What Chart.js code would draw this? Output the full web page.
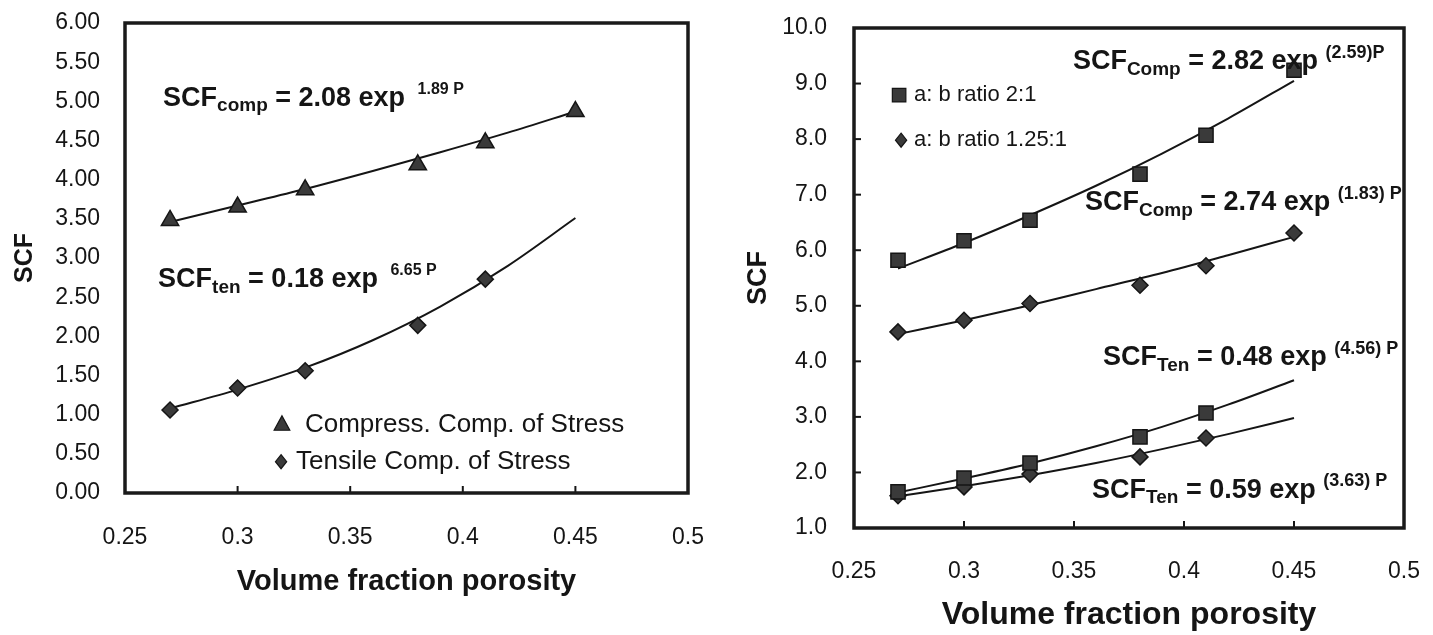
<!DOCTYPE html>
<html>
<head>
<meta charset="utf-8">
<script src="https://cdn.jsdelivr.net/npm/chart.js@4.4.1/dist/chart.umd.min.js"></script>
<style>
html, body { margin: 0; padding: 0; background: #fff; }
#wrap { position: relative; width: 1433px; height: 635px; overflow: hidden; background: #fff; }
canvas { position: absolute; top: 0; }
#left { left: 0; }
#right { left: 720px; }
</style>
</head>
<body>
<div id="wrap">
  <canvas id="left" width="715" height="635"></canvas>
  <canvas id="right" width="713" height="635"></canvas>
</div>
<script>
const FONT = "'Liberation Sans', Arial, sans-serif";
const INK = "#151515";
const MARK = "#3a3a3a";

// shared x values
const porosity = [0.27, 0.30, 0.33, 0.38, 0.41, 0.45];
const fitPorosity = [0.27, 0.30, 0.33, 0.36, 0.39, 0.42, 0.45];
const xTicks = [0.25, 0.3, 0.35, 0.4, 0.45, 0.5];

// left panel
const leftYTicks = [0, 0.5, 1, 1.5, 2, 2.5, 3, 3.5, 4, 4.5, 5, 5.5, 6];
const compressSCF = [3.48, 3.65, 3.87, 4.19, 4.47, 4.87];
const tensileSCF = [1.06, 1.34, 1.56, 2.14, 2.73];
const compressFit = [3.46, 3.67, 3.88, 4.11, 4.35, 4.60, 4.87];
const tensileFit = [1.08, 1.32, 1.60, 1.95, 2.38, 2.90, 3.51];

// right panel
const rightYTicks = [1, 2, 3, 4, 5, 6, 7, 8, 9, 10];
const compRatio21 = [5.82, 6.17, 6.54, 7.37, 8.07, 9.24];
const compRatio125 = [4.53, 4.74, 5.04, 5.37, 5.72, 6.31];
const tenRatio21 = [1.65, 1.90, 2.17, 2.64, 3.07];
const tenRatio125 = [1.58, 1.74, 1.97, 2.28, 2.62];
const compFit21 = [5.67, 6.13, 6.63, 7.16, 7.74, 8.37, 9.05];
const compFit125 = [4.49, 4.74, 5.01, 5.30, 5.59, 5.91, 6.24];
const tenFit21 = [1.64, 1.89, 2.16, 2.47, 2.82, 3.22, 3.66];
const tenFit125 = [1.57, 1.75, 1.95, 2.17, 2.42, 2.69, 2.98];

function pts(xs, ys) {
  return ys.map((y, i) => ({ x: xs[i], y: y }));
}

function markers(xs, ys, style, r) {
  return {
    data: pts(xs, ys), showLine: false, pointStyle: style, pointRadius: r,
    backgroundColor: MARK, borderColor: INK, borderWidth: 1.5
  };
}

function trend(ys) {
  return {
    data: pts(fitPorosity, ys), showLine: true, pointRadius: 0,
    borderColor: INK, borderWidth: 2, tension: 0.4, cubicInterpolationMode: 'monotone'
  };
}

function drawMark(ctx, style, x, y, r) {
  ctx.beginPath();
  if (style === 'triangle') {
    ctx.moveTo(x, y - r);
    ctx.lineTo(x + r * 0.87, y + r * 0.6);
    ctx.lineTo(x - r * 0.87, y + r * 0.6);
  } else if (style === 'rectRot') {
    ctx.moveTo(x, y - r);
    ctx.lineTo(x + r * 0.8, y);
    ctx.lineTo(x, y + r);
    ctx.lineTo(x - r * 0.8, y);
  } else {
    ctx.rect(x - r * 0.75, y - r * 0.75, r * 1.5, r * 1.5);
  }
  ctx.closePath();
  ctx.fillStyle = MARK;
  ctx.fill();
  ctx.lineWidth = 1.2;
  ctx.strokeStyle = INK;
  ctx.stroke();
}

function drawEq(ctx, x, y, parts, cfg) {
  let cx = x;
  ctx.textBaseline = 'middle';
  ctx.textAlign = 'left';
  ctx.fillStyle = INK;
  parts.forEach(p => {
    let fs = cfg.eqSize, dy = 0;
    if (p[1] === 'sub') { fs = cfg.subSize; dy = 8; }
    if (p[1] === 'sup') { fs = cfg.supSize; dy = -9; cx += cfg.supGap; }
    ctx.font = 'bold ' + fs + 'px ' + FONT;
    ctx.fillText(p[0], cx, y + dy);
    cx += ctx.measureText(p[0]).width;
  });
}

function decor(cfg) {
  return {
    id: 'panelDecor',
    afterDraw(chart) {
      const ctx = chart.ctx;
      const a = chart.chartArea;
      const xs = chart.scales.x, ys = chart.scales.y;
      ctx.save();
      // inward tick marks
      ctx.strokeStyle = INK;
      ctx.lineWidth = 2;
      xs.ticks.forEach((t, i) => {
        if (i === 0 || i === xs.ticks.length - 1) return;
        const px = xs.getPixelForValue(t.value);
        ctx.beginPath(); ctx.moveTo(px, a.bottom); ctx.lineTo(px, a.bottom - 7); ctx.stroke();
      });
      if (cfg.yInner) {
        ys.ticks.forEach((t, i) => {
          if (i === 0 || i === ys.ticks.length - 1) return;
          const py = ys.getPixelForValue(t.value);
          ctx.beginPath(); ctx.moveTo(a.left, py); ctx.lineTo(a.left + 7, py); ctx.stroke();
        });
      }
      // frame
      ctx.lineWidth = 3.5;
      ctx.strokeStyle = '#1a1a1a';
      ctx.strokeRect(a.left, a.top, a.right - a.left, a.bottom - a.top);
      // equations
      cfg.equations.forEach(e => {
        drawEq(ctx, xs.getPixelForValue(e.x), ys.getPixelForValue(e.y), e.parts, cfg);
      });
      // legend
      cfg.legend.forEach(l => {
        const px = xs.getPixelForValue(l.x), py = ys.getPixelForValue(l.y);
        drawMark(ctx, l.style, px, py, l.r);
        ctx.fillStyle = INK;
        ctx.font = cfg.legendSize + 'px ' + FONT;
        ctx.textBaseline = 'middle';
        ctx.textAlign = 'left';
        ctx.fillText(l.text, px + l.gap, py);
      });
      ctx.restore();
    }
  };
}

function panel(id, cfg) {
  return new Chart(document.getElementById(id), {
    type: 'scatter',
    data: { datasets: cfg.datasets },
    options: {
      responsive: false,
      animation: false,
      layout: { padding: cfg.padding },
      plugins: { legend: { display: false }, tooltip: { enabled: false } },
      scales: {
        x: {
          type: 'linear', min: 0.25, max: 0.5,
          afterBuildTicks: s => { s.ticks = xTicks.map(v => ({ value: v })); },
          afterFit: s => { s.height = cfg.xHeight; s.paddingLeft = 0; s.paddingRight = 0; },
          grid: { display: false }, border: { display: false },
          ticks: {
            padding: cfg.xPad, color: INK, maxRotation: 0,
            font: { family: FONT, size: 23 },
            callback: v => String(+(+v).toFixed(2))
          },
          title: {
            display: true, text: 'Volume fraction porosity', color: INK,
            font: { family: FONT, size: cfg.xTitleSize, weight: 'bold' },
            padding: { top: 0, bottom: cfg.xTitlePad }
          }
        },
        y: {
          type: 'linear', min: cfg.yTicks[0], max: cfg.yTicks[cfg.yTicks.length - 1],
          afterBuildTicks: s => { s.ticks = cfg.yTicks.map(v => ({ value: v })); },
          afterFit: s => { s.width = cfg.yWidth; s.paddingTop = 0; s.paddingBottom = 0; },
          grid: { display: false }, border: { display: false },
          ticks: {
            padding: cfg.yPad, color: INK,
            font: { family: FONT, size: 23 },
            callback: v => (+v).toFixed(cfg.yDigits)
          },
          title: {
            display: true, text: 'SCF', color: INK,
            font: { family: FONT, size: cfg.yTitleSize, weight: 'bold' },
            padding: { top: cfg.yTitlePad, bottom: 0 }
          }
        }
      }
    },
    plugins: [decor(cfg)]
  });
}

panel('left', {
  datasets: [
    markers(porosity, compressSCF, 'triangle', 10),
    markers(porosity, tensileSCF, 'rectRot', 8),
    trend(compressFit),
    trend(tensileFit)
  ],
  padding: { left: 0, top: 23, right: 27, bottom: 0 },
  yTicks: leftYTicks, yDigits: 2,
  xHeight: 142, yWidth: 125,
  xPad: 23, yPad: 17,
  xTitleSize: 29, xTitlePad: 36,
  yTitleSize: 25, yTitlePad: 10,
  eqSize: 27, subSize: 19, supSize: 16, supGap: 5,
  legendSize: 26,
  yInner: false,
  equations: [
    { x: 0.2669, y: 5.04, parts: [['SCF'], ['comp', 'sub'], [' = 2.08 exp '], ['1.89 P', 'sup']] },
    { x: 0.2647, y: 2.72, parts: [['SCF'], ['ten', 'sub'], [' = 0.18 exp '], ['6.65 P', 'sup']] }
  ],
  legend: [
    { x: 0.3197, y: 0.87, style: 'triangle', r: 9, gap: 23, text: 'Compress. Comp. of Stress' },
    { x: 0.3193, y: 0.40, style: 'rectRot', r: 7, gap: 15, text: 'Tensile Comp. of Stress' }
  ]
});

panel('right', {
  datasets: [
    markers(porosity, compRatio21, 'rect', 10),
    markers(porosity, compRatio125, 'rectRot', 8),
    markers(porosity, tenRatio21, 'rect', 10),
    markers(porosity, tenRatio125, 'rectRot', 8),
    trend(compFit21),
    trend(compFit125),
    trend(tenFit21),
    trend(tenFit125)
  ],
  padding: { left: 0, top: 28, right: 29, bottom: 0 },
  yTicks: rightYTicks, yDigits: 1,
  xHeight: 107, yWidth: 134,
  xPad: 22, yPad: 19,
  xTitleSize: 32, xTitlePad: 1,
  yTitleSize: 27, yTitlePad: 22,
  eqSize: 27, subSize: 19, supSize: 18, supGap: 0,
  legendSize: 22,
  yInner: true,
  equations: [
    { x: 0.3495, y: 9.39, parts: [['SCF'], ['Comp', 'sub'], [' = 2.82 exp '], ['(2.59)P', 'sup']] },
    { x: 0.3550, y: 6.85, parts: [['SCF'], ['Comp', 'sub'], [' = 2.74 exp '], ['(1.83) P', 'sup']] },
    { x: 0.3632, y: 4.06, parts: [['SCF'], ['Ten', 'sub'], [' = 0.48 exp '], ['(4.56) P', 'sup']] },
    { x: 0.3582, y: 1.68, parts: [['SCF'], ['Ten', 'sub'], [' = 0.59 exp '], ['(3.63) P', 'sup']] }
  ],
  legend: [
    { x: 0.2705, y: 8.79, style: 'rect', r: 9, gap: 15, text: 'a: b ratio 2:1' },
    { x: 0.2714, y: 7.98, style: 'rectRot', r: 7, gap: 13, text: 'a: b ratio 1.25:1' }
  ]
});
</script>
</body>
</html>
